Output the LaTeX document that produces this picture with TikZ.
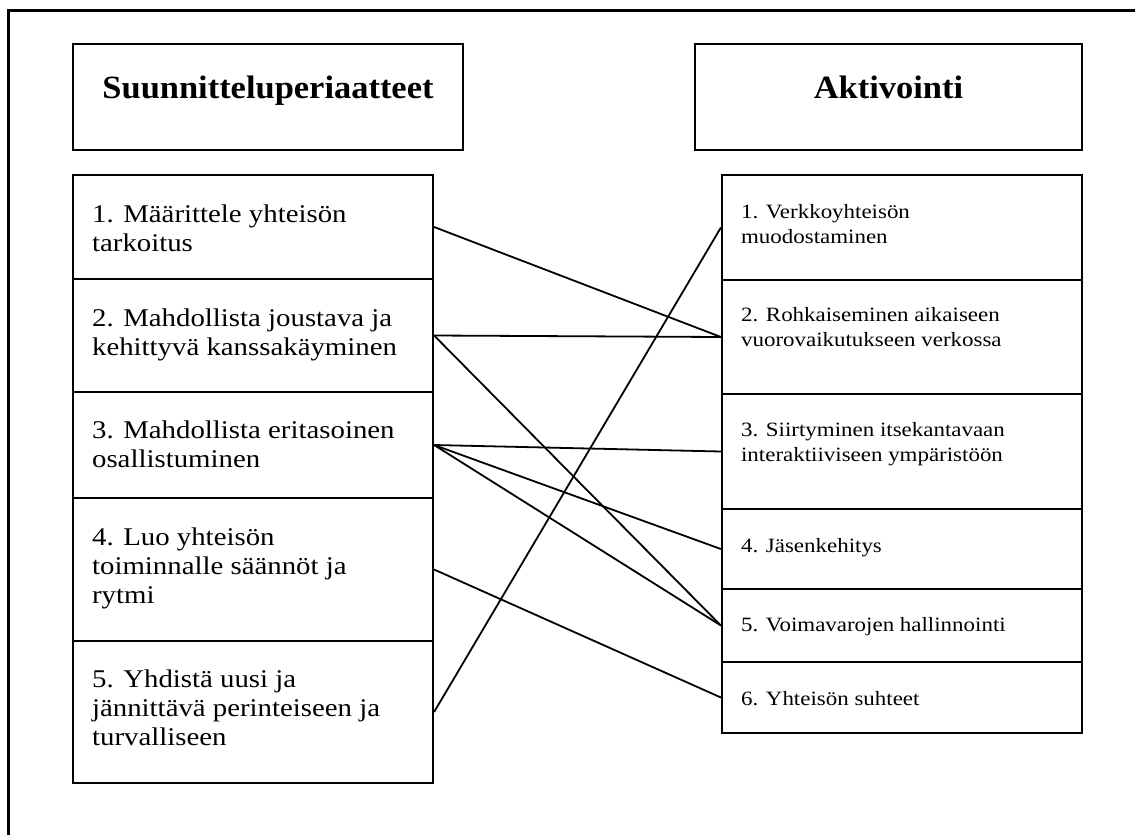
\documentclass[tikz,border=0pt]{standalone}
\usepackage{fontspec}
\setmainfont{Liberation Serif}
\newfontfamily\itemfont{Liberation Serif}[FakeStretch=1.13]
\newfontfamily\headfont{Liberation Serif}[FakeStretch=1.06]
\usetikzlibrary{calc}

\begin{document}
\begin{tikzpicture}[x=1pt,y=-1pt,
  frame/.style={line width=3pt},
  hbox/.style={draw,line width=2.2pt,rectangle,inner sep=0pt,minimum height=106pt},
  lbox/.style={draw,line width=2.2pt,rectangle,inner sep=0pt,minimum width=360pt},
  rbox/.style={draw,line width=2.2pt,rectangle,inner sep=0pt,minimum width=360pt},
  headtext/.style={anchor=base,inner sep=0pt,font=\headfont\bfseries\fontsize{32.5}{38}\selectfont},
  ltext/.style={anchor=base west,inner sep=0pt,font=\itemfont\fontsize{25.5}{28.7}\selectfont},
  rtext/.style={anchor=base west,inner sep=0pt,font=\itemfont\fontsize{20.3}{24.5}\selectfont},
  link/.style={line width=1.8pt}]

\useasboundingbox (0,0) rectangle (1135,835);

% outer frame (only its top and left sides fall on the page)
\draw[frame] (8,835) -- (8,10) -- (1135,10);

% column headers
\node[hbox,minimum width=390pt] (hl) at (268,97) {};
\node[hbox,minimum width=387pt] (hr) at (888.5,97) {};
\node[headtext] (hlt) at (268,98) {Suunnitteluperiaatteet};
\node[headtext] (hrt) at (888.5,98) {Aktivointi};

% left column: design principles
\node[lbox,minimum height=104pt] (l1) at (253,227) {};
\node[lbox,minimum height=113pt] (l2) at (253,335.5) {};
\node[lbox,minimum height=106pt] (l3) at (253,445) {};
\node[lbox,minimum height=143pt] (l4) at (253,569.5) {};
\node[lbox,minimum height=142pt] (l5) at (253,712) {};

\node[ltext] (l1t) at ($(l1.north west)+(20,49)$) {\parbox[t]{330pt}{\raggedright 1. Määrittele yhteisön\\tarkoitus}};
\node[ltext] (l2t) at ($(l2.north west)+(20,49)$) {\parbox[t]{330pt}{\raggedright 2. Mahdollista joustava ja\\kehittyvä kanssakäyminen}};
\node[ltext] (l3t) at ($(l3.north west)+(20,48)$) {\parbox[t]{330pt}{\raggedright 3. Mahdollista eritasoinen\\osallistuminen}};
\node[ltext] (l4t) at ($(l4.north west)+(20,49)$) {\parbox[t]{330pt}{\raggedright 4. Luo yhteisön\\toiminnalle säännöt ja\\rytmi}};
\node[ltext] (l5t) at ($(l5.north west)+(20,48)$) {\parbox[t]{330pt}{\raggedright 5. Yhdistä uusi ja\\jännittävä perinteiseen ja\\turvalliseen}};

% right column: activation stages
\node[rbox,minimum height=105pt] (r1) at (902,227.5) {};
\node[rbox,minimum height=114pt] (r2) at (902,337) {};
\node[rbox,minimum height=115pt] (r3) at (902,451.5) {};
\node[rbox,minimum height=80pt] (r4) at (902,549) {};
\node[rbox,minimum height=73pt] (r5) at (902,625.5) {};
\node[rbox,minimum height=71pt] (r6) at (902,697.5) {};

\node[rtext] (r1t) at ($(r1.north west)+(20,45)$) {\parbox[t]{330pt}{\raggedright 1. Verkkoyhteisön\\muodostaminen}};
\node[rtext] (r2t) at ($(r2.north west)+(20,43)$) {\parbox[t]{330pt}{\raggedright 2. Rohkaiseminen aikaiseen\\vuorovaikutukseen verkossa}};
\node[rtext] (r3t) at ($(r3.north west)+(20,44)$) {\parbox[t]{330pt}{\raggedright 3. Siirtyminen itsekantavaan\\interaktiiviseen ympäristöön}};
\node[rtext] (r4t) at ($(r4.north west)+(20,45)$) {4. Jäsenkehitys};
\node[rtext] (r5t) at ($(r5.north west)+(20,44)$) {5. Voimavarojen hallinnointi};
\node[rtext] (r6t) at ($(r6.north west)+(20,45)$) {6. Yhteisön suhteet};

% links between principles and stages
\draw[link] (l1.east) -- (r2.west);
\draw[link] (l2.east) -- (r2.west);
\draw[link] (l2.east) -- (r5.west);
\draw[link] (l3.east) -- (r3.west);
\draw[link] (l3.east) -- (r4.west);
\draw[link] (l3.east) -- (r5.west);
\draw[link] (l4.east) -- (r6.west);
\draw[link] (l5.east) -- (r1.west);

\end{tikzpicture}
\end{document}
